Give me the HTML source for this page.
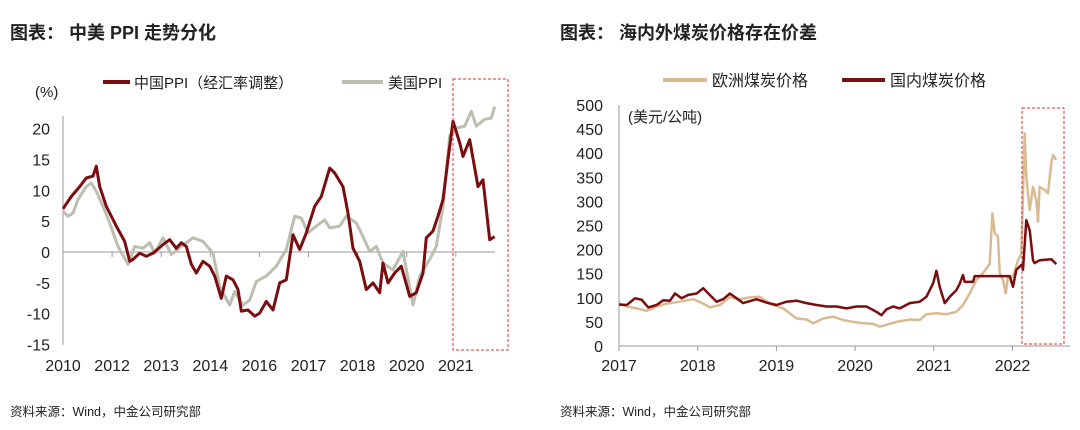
<!DOCTYPE html>
<html><head><meta charset="utf-8"><style>
body{margin:0;background:#fff;width:1080px;height:430px;overflow:hidden;font-family:"Liberation Sans","Noto Sans CJK SC",sans-serif}
svg{position:absolute;left:0;top:0}
text{font-family:"Liberation Sans","Noto Sans CJK SC",sans-serif;fill:#222}
</style></head><body>
<svg id="c" width="1080" height="430">
<text x="10" y="39" font-size="18" font-weight="bold">图表：  中美 PPI 走势分化</text>
<text x="560" y="39" font-size="18" font-weight="bold">图表：  海内外煤炭价格存在价差</text>
<text x="10" y="416" font-size="12.5">资料来源：Wind，中金公司研究部</text>
<text x="560" y="416" font-size="12.5">资料来源：Wind，中金公司研究部</text>
<g id="L"></g><g id="R"></g>
</svg>
<script>
// Left chart data: t in tick units (0 = 2010 tick)
const leftTicks=["2010","2012","2013","2014","2016","2017","2018","2020","2021"];
const leftYTicks=[20,15,10,5,0,-5,-10,-15];
const cnX=[190,215,240,260,280,290,300,320,350,375,390,400,420,440,460,490,510,530,545,560,575,590,610,630,645,665,680,700,715,725,745,765,780,800,820,840,860,880,900,920,945,965,990,1005,1030,1045,1060,1080,1100,1120,1140,1150,1165,1185,1205,1230,1250,1270,1280,1300,1315,1330,1345,1360,1380,1390,1410,1435,1450,1470,1485];
const cnV=[7,9,10.6,12,12.3,13.9,10.6,7.4,4.2,1.7,-1.5,-1.2,-0.2,-0.7,-0.2,1.2,2,0.6,1.5,0.9,-2,-3.4,-1.5,-2.3,-3.9,-7.5,-3.9,-4.5,-6.1,-9.6,-9.4,-10.4,-9.9,-8,-9.4,-5,-4.5,2.8,0.4,3.1,7.4,9,13.6,12.8,10.6,6.3,0.6,-1.5,-6.1,-5,-6.6,-1.8,-5,-3.4,-2.3,-7.2,-6.6,-3.4,2.3,3.4,5.8,8.5,15,21.2,17.7,15.5,18.2,10.6,11.7,2,2.5];
const usX=[190,205,220,235,260,275,290,310,330,355,385,405,430,450,465,490,515,545,580,610,640,660,690,705,730,750,770,800,830,860,885,905,925,950,975,990,1020,1040,1070,1090,1110,1130,1150,1180,1210,1240,1260,1290,1310,1330,1350,1370,1395,1415,1430,1455,1475,1485];
const usV=[6.6,5.8,6.3,8.5,10.6,11.2,9.8,7.4,4.7,0.9,-2,0.9,0.6,1.5,-0.2,2.3,-0.4,0.9,2.3,1.7,-0.2,-5.6,-8.6,-6.4,-8.6,-7.8,-4.8,-3.9,-2.3,0.4,5.8,5.5,3.1,4.2,5.2,3.9,4.2,5.8,4.7,2.5,0.1,0.9,-1.8,-2.9,0.1,-8.6,-3.9,-1.2,0.9,7.4,18.8,20.1,20.4,22.8,20.4,21.5,21.7,23.6];
// Right chart data: year positions
const rightTicks=["2017","2018","2019","2020","2021","2022"];
const rightYTicks=[500,450,400,350,300,250,200,150,100,50,0];
const dmX=[177,200,225,245,265,290,310,330,345,365,385,410,430,445,470,490,510,530,550,590,620,650,680,710,740,770,800,830,860,890,920,950,965,980,1000,1020,1050,1080,1100,1120,1130,1140,1155,1170,1190,1200,1210,1215,1240,1245,1290,1350,1360,1370,1385,1390,1400,1410,1420,1425,1440,1475,1490];
const dmV=[86,85,99,96,80,85,95,94,109,99,106,109,120,109,92,97,109,99,89,97,90,85,92,94,89,85,82,82,78,82,82,71,64,76,82,78,89,92,102,130,156,123,89,102,116,129,147,133,133,145,145,145,123,158,168,158,261,240,178,172,178,180,170];
const euX=[177,200,230,260,290,320,360,400,430,450,480,510,540,570,600,630,670,710,740,760,790,820,850,880,910,940,960,980,1010,1050,1080,1100,1130,1160,1190,1210,1230,1250,1270,1290,1298,1305,1315,1320,1330,1338,1345,1360,1375,1385,1395,1400,1410,1420,1430,1435,1440,1455,1465,1475,1480,1490];
const euV=[88,82,78,73,82,88,92,97,88,80,85,101,97,101,102,88,78,57,55,47,57,61,54,50,47,46,40,44,50,55,54,66,68,66,71,85,109,137,151,171,275,234,227,151,137,109,144,144,178,192,441,351,282,330,303,258,330,324,317,379,396,386];

const NS="http://www.w3.org/2000/svg";
function mk(tag,attrs,parent,txt){const e=document.createElementNS(NS,tag);for(const k in attrs)e.setAttribute(k,attrs[k]);if(txt!==undefined)e.textContent=txt;parent.appendChild(e);return e;}
// left axes
const L=document.getElementById('L');
const lx=t=>63+t*49.1, lxz=z=>lx((z-190)/147.3), ly=v=>252-v*6.17;
let a=mk('line',{x1:63,y1:116,x2:63,y2:345,stroke:'#999','stroke-width':1},L);

a=mk('line',{x1:63,y1:ly(0),x2:495,y2:ly(0),stroke:'#999','stroke-width':1},L);

leftYTicks.forEach(v=>{const t=mk('text',{x:50,y:ly(v)+6,'font-size':16,'text-anchor':'end'},L,String(v));
});
leftTicks.forEach((s,i)=>{const k=mk('line',{x1:lx(i),y1:ly(0),x2:lx(i),y2:ly(0)+5,stroke:'#999'},L);

const t=mk('text',{x:lx(i),y:371,'font-size':16,'text-anchor':'middle'},L,s);
});
a=mk('text',{x:35,y:97,'font-size':15},L,'(%)');

function path(xs,vs,fx,fy){return xs.map((x,i)=>(i?'L':'M')+fx(x).toFixed(1)+','+fy(vs[i]).toFixed(1)).join('');}
a=mk('path',{d:path(usX,usV,lxz,ly),fill:'none',stroke:'#bdbdb0','stroke-width':3,'stroke-linejoin':'round'},L);

a=mk('path',{d:path(cnX,cnV,lxz,ly),fill:'none',stroke:'#7a0d10','stroke-width':3,'stroke-linejoin':'round'},L);

a=mk('rect',{x:453,y:79,width:55,height:271,fill:'none',stroke:'#e03030','stroke-width':1,'stroke-dasharray':'3,2'},L);

a=mk('line',{x1:103,y1:82,x2:130,y2:82,stroke:'#7a0d10','stroke-width':4},L);

a=mk('text',{x:134,y:88,'font-size':15},L,'中国PPI（经汇率调整）');

a=mk('line',{x1:342,y1:82,x2:383,y2:82,stroke:'#bdbdb0','stroke-width':4},L);

a=mk('text',{x:388,y:88,'font-size':15},L,'美国PPI');

// right axes
const R=document.getElementById('R');
const rxz=z=>619+(z-177)/236.3*78.7, rx=i=>619+i*78.7, ry=v=>346-v*0.482;
a=mk('line',{x1:619,y1:105,x2:619,y2:346,stroke:'#999'},R);

a=mk('line',{x1:619,y1:346,x2:1070,y2:346,stroke:'#999'},R);

rightYTicks.forEach(v=>{const t=mk('text',{x:603,y:ry(v)+6,'font-size':16,'text-anchor':'end'},R,String(v));
});
rightTicks.forEach((s,i)=>{const k=mk('line',{x1:rx(i),y1:346,x2:rx(i),y2:351,stroke:'#999'},R);

const t=mk('text',{x:rx(i),y:371,'font-size':16,'text-anchor':'middle'},R,s);
});
a=mk('text',{x:628,y:122,'font-size':15},R,'(美元/公吨)');

a=mk('path',{d:path(euX,euV,rxz,ry),fill:'none',stroke:'#d9bb93','stroke-width':2.5,'stroke-linejoin':'round'},R);

a=mk('path',{d:path(dmX,dmV,rxz,ry),fill:'none',stroke:'#7a0d10','stroke-width':2.5,'stroke-linejoin':'round'},R);

a=mk('rect',{x:1022,y:108,width:42,height:236,fill:'none',stroke:'#e03030','stroke-width':1,'stroke-dasharray':'3,2'},R);

a=mk('line',{x1:663,y1:80,x2:707,y2:80,stroke:'#d9bb93','stroke-width':4},R);

a=mk('text',{x:712,y:86,'font-size':16},R,'欧洲煤炭价格');

a=mk('line',{x1:842,y1:80,x2:885,y2:80,stroke:'#7a0d10','stroke-width':4},R);

a=mk('text',{x:890,y:86,'font-size':16},R,'国内煤炭价格');

</script>
</body></html>
